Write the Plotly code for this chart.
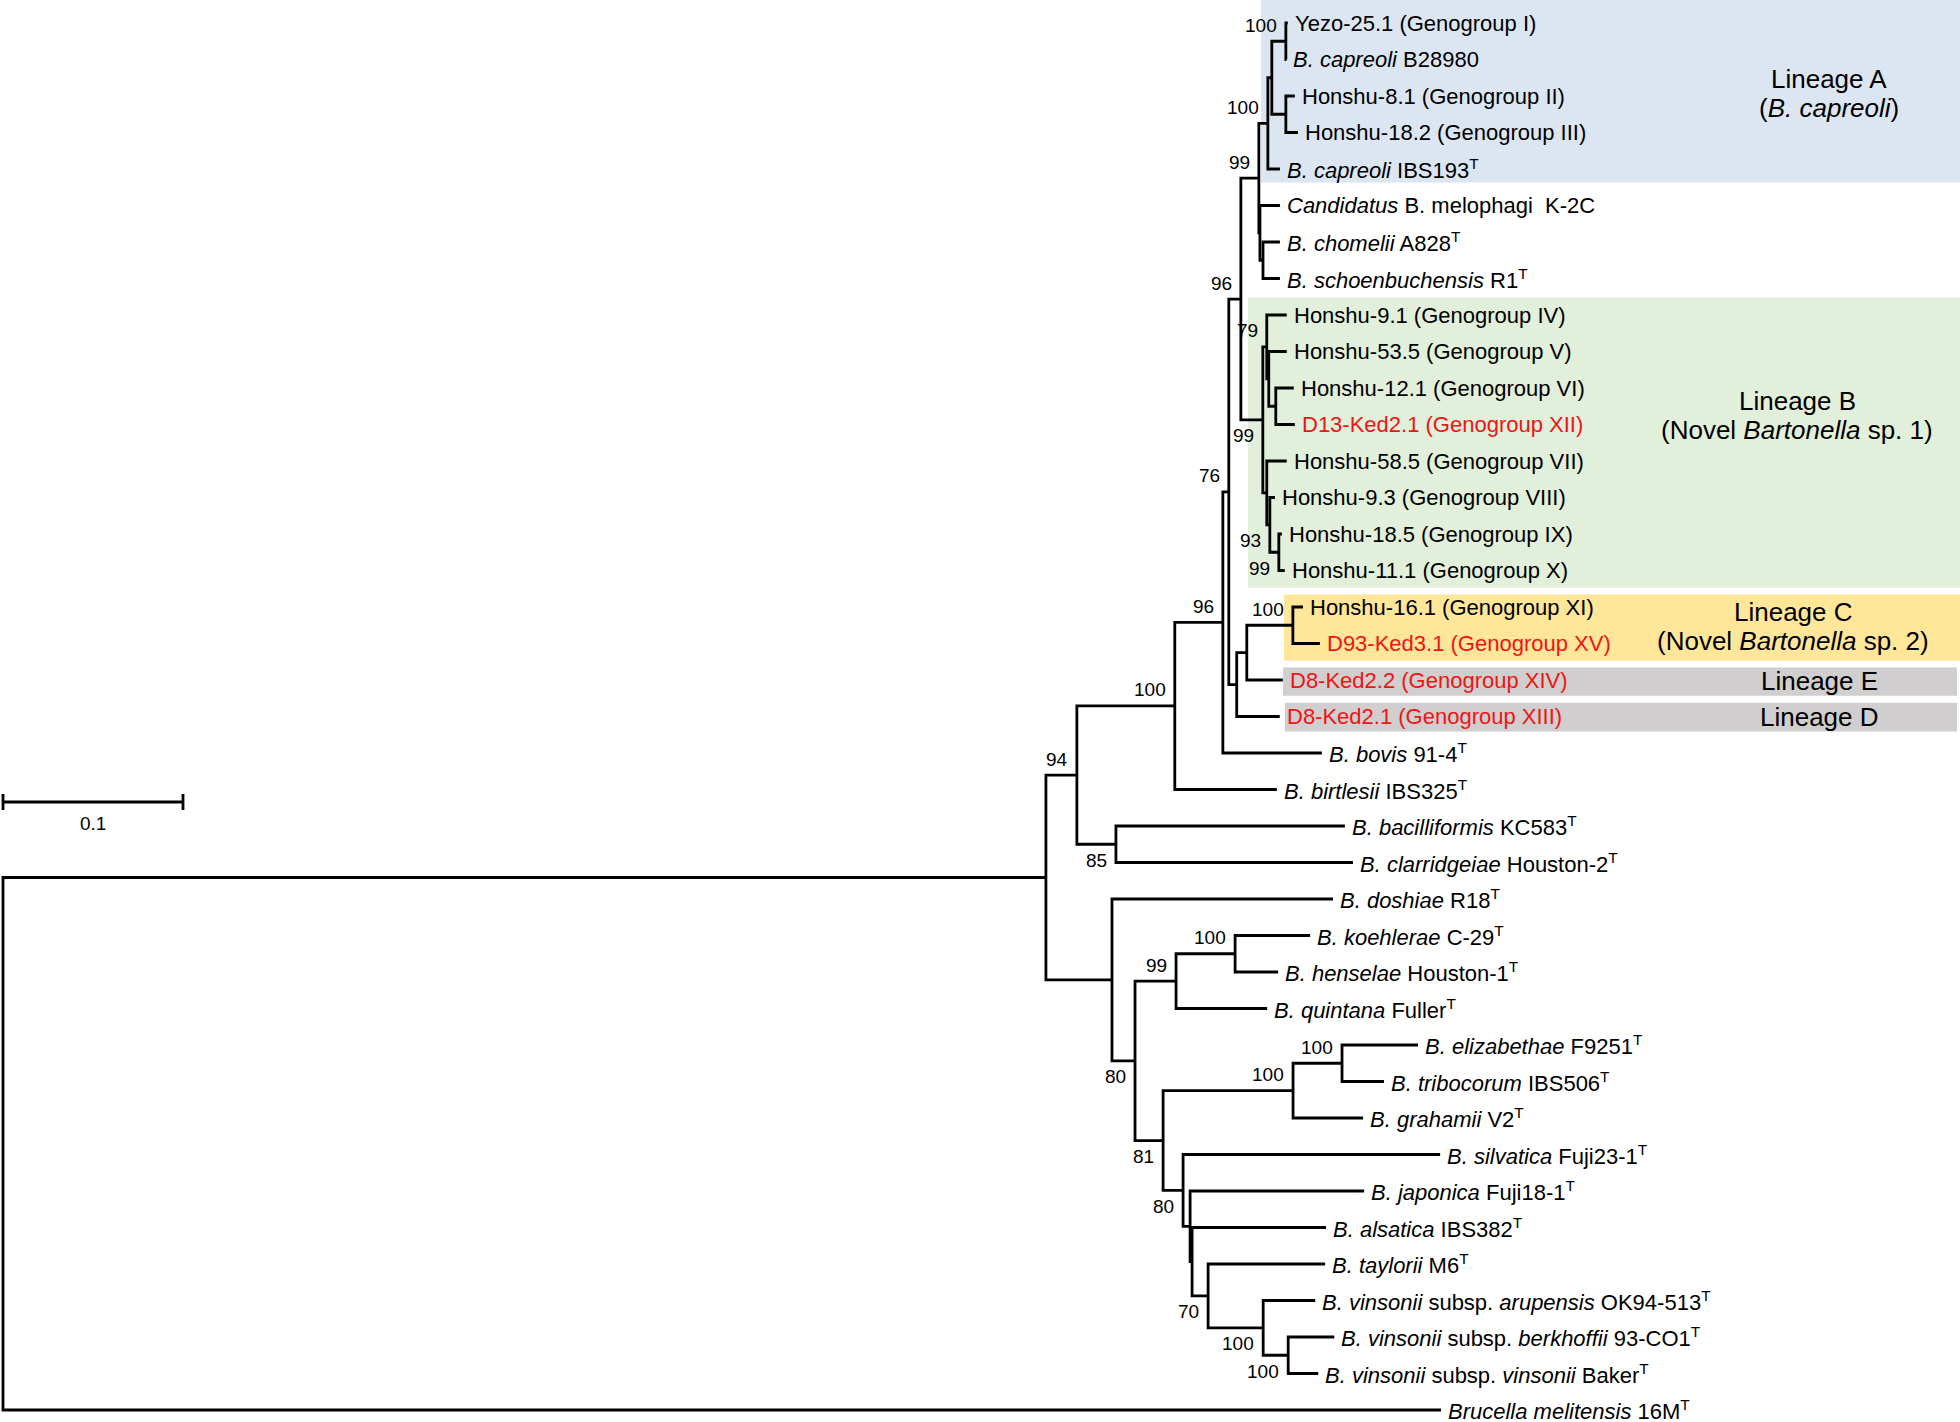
import plotly.graph_objects as go

# ---------------- DATA ----------------
# tree topology (children listed top-to-bottom) and branch lengths (substitutions/site)
node_names = [
    "root", "Bart", "N94", "N100big", "N96low", "N76", "N96up", "N99A", "NA", "NP", "NQ",
    "L_Yezo", "L_capB", "NR", "L_H8.1", "L_H18.2", "L_capIBS", "NZ", "L_Cand", "NW", "L_chom",
    "L_schoen", "NB", "N79", "L_H9.1", "NT", "L_H53.5", "NU", "L_H12.1", "L_D13", "NS",
    "L_H58.5", "NV", "L_H9.3", "NW2", "L_H18.5", "L_H11.1", "NCDE", "NCE", "NC", "L_H16.1",
    "L_D93", "L_D8_2.2", "L_D8_2.1", "L_bovis", "L_birt", "N85", "L_bacil", "L_clar", "Nd",
    "L_dosh", "NX1", "N99q", "N100kh", "L_koeh", "L_hens", "L_quint", "N81", "N100a", "N100b",
    "L_eliz", "L_trib", "L_grah", "N80b", "L_silv", "NY1", "L_japo", "NY2", "L_alsa", "N70",
    "L_tayl", "N100v", "L_arup", "N100w", "L_berk", "L_vins", "L_bruc",
]
node_parents = [
    None, "root", "Bart", "N94", "N100big", "N96low", "N76", "N96up", "N99A", "NA", "NP",
    "NQ", "NQ", "NP", "NR", "NR", "NA", "N99A", "NZ", "NZ", "NW",
    "NW", "N96up", "NB", "N79", "N79", "NT", "NT", "NU", "NU", "NB",
    "NS", "NS", "NV", "NV", "NW2", "NW2", "N76", "NCDE", "NCE", "NC",
    "NC", "NCE", "NCDE", "N96low", "N100big", "N94", "N85", "N85", "Bart",
    "Nd", "Nd", "NX1", "N99q", "N100kh", "N100kh", "N99q", "NX1", "N81", "N100a",
    "N100b", "N100b", "N100a", "N81", "N80b", "N80b", "NY1", "NY1", "NY2", "NY2",
    "N70", "N70", "N100v", "N100v", "N100w", "N100w", "root",
]
branch_lengths = [
    0.0, 0.5794, 0.0172, 0.0544, 0.0267, 0.0033, 0.0067, 0.0100, 0.0050, 0.0022, 0.0078,
    0.0011, 0.0003, 0.0078, 0.0050, 0.0067, 0.0067, 0.0006, 0.0111, 0.0017, 0.0094,
    0.0094, 0.0122, 0.0022, 0.0111, 0.0011, 0.0100, 0.0039, 0.0100, 0.0106, 0.0022,
    0.0111, 0.0017, 0.0028, 0.0050, 0.0017, 0.0033, 0.0044, 0.0056, 0.0256, 0.0056,
    0.0150, 0.0200, 0.0239, 0.0550, 0.0567, 0.0217, 0.1272, 0.1317, 0.0367,
    0.1228, 0.0128, 0.0228, 0.0328, 0.0417, 0.0239, 0.0506, 0.0156, 0.0722, 0.0272,
    0.0422, 0.0233, 0.0389, 0.0111, 0.1428, 0.0039, 0.0967, 0.0011, 0.0744, 0.0089,
    0.0650, 0.0306, 0.0289, 0.0139, 0.0256, 0.0167, 0.7989,
]

leaf_labels = {
    "L_Yezo": "Yezo-25.1 (Genogroup I)",
    "L_capB": "<i>B. capreoli</i> B28980",
    "L_H8.1": "Honshu-8.1 (Genogroup II)",
    "L_H18.2": "Honshu-18.2 (Genogroup III)",
    "L_capIBS": "<i>B. capreoli</i> IBS193<sup>T</sup>",
    "L_Cand": "<i>Candidatus</i> B. melophagi  K-2C",
    "L_chom": "<i>B. chomelii</i> A828<sup>T</sup>",
    "L_schoen": "<i>B. schoenbuchensis</i> R1<sup>T</sup>",
    "L_H9.1": "Honshu-9.1 (Genogroup IV)",
    "L_H53.5": "Honshu-53.5 (Genogroup V)",
    "L_H12.1": "Honshu-12.1 (Genogroup VI)",
    "L_D13": "D13-Ked2.1 (Genogroup XII)",
    "L_H58.5": "Honshu-58.5 (Genogroup VII)",
    "L_H9.3": "Honshu-9.3 (Genogroup VIII)",
    "L_H18.5": "Honshu-18.5 (Genogroup IX)",
    "L_H11.1": "Honshu-11.1 (Genogroup X)",
    "L_H16.1": "Honshu-16.1 (Genogroup XI)",
    "L_D93": "D93-Ked3.1 (Genogroup XV)",
    "L_D8_2.2": "D8-Ked2.2 (Genogroup XIV)",
    "L_D8_2.1": "D8-Ked2.1 (Genogroup XIII)",
    "L_bovis": "<i>B. bovis</i> 91-4<sup>T</sup>",
    "L_birt": "<i>B. birtlesii</i> IBS325<sup>T</sup>",
    "L_bacil": "<i>B. bacilliformis</i> KC583<sup>T</sup>",
    "L_clar": "<i>B. clarridgeiae</i> Houston-2<sup>T</sup>",
    "L_dosh": "<i>B. doshiae</i> R18<sup>T</sup>",
    "L_koeh": "<i>B. koehlerae</i> C-29<sup>T</sup>",
    "L_hens": "<i>B. henselae</i> Houston-1<sup>T</sup>",
    "L_quint": "<i>B. quintana</i> Fuller<sup>T</sup>",
    "L_eliz": "<i>B. elizabethae</i> F9251<sup>T</sup>",
    "L_trib": "<i>B. tribocorum</i> IBS506<sup>T</sup>",
    "L_grah": "<i>B. grahamii</i> V2<sup>T</sup>",
    "L_silv": "<i>B. silvatica</i> Fuji23-1<sup>T</sup>",
    "L_japo": "<i>B. japonica</i> Fuji18-1<sup>T</sup>",
    "L_alsa": "<i>B. alsatica</i> IBS382<sup>T</sup>",
    "L_tayl": "<i>B. taylorii</i> M6<sup>T</sup>",
    "L_arup": "<i>B. vinsonii</i> subsp. <i>arupensis</i> OK94-513<sup>T</sup>",
    "L_berk": "<i>B. vinsonii</i> subsp. <i>berkhoffii</i> 93-CO1<sup>T</sup>",
    "L_vins": "<i>B. vinsonii</i> subsp. <i>vinsonii</i> Baker<sup>T</sup>",
    "L_bruc": "<i>Brucella melitensis</i> 16M<sup>T</sup>",
}
new_sequences = ["L_D13", "L_D93", "L_D8_2.2", "L_D8_2.1"]

support_nodes = ["NQ", "NA", "N99A", "N96up", "N76", "NB", "N79", "NV", "NW2", "NC", "N96low",
                 "N100big", "N94", "N85", "NX1", "N99q", "N100kh", "N81", "N100a", "N100b",
                 "N80b", "N70", "N100v", "N100w"]
support_values = [100, 100, 99, 96, 76, 99, 79, 93, 99, 100, 96,
                  100, 94, 85, 80, 99, 100, 81, 100, 100,
                  80, 70, 100, 100]

lineage_names = ["Lineage A", "Lineage B", "Lineage C", "Lineage E", "Lineage D"]
lineage_subtitles = ["(<i>B. capreoli</i>)", "(Novel <i>Bartonella</i> sp. 1)",
                     "(Novel <i>Bartonella</i> sp. 2)", "", ""]
lineage_first_leaf = ["L_Yezo", "L_H9.1", "L_H16.1", "L_D8_2.2", "L_D8_2.1"]
lineage_last_leaf = ["L_capIBS", "L_H11.1", "L_D93", "L_D8_2.2", "L_D8_2.1"]

scale_bar_length = 0.1

# ---------------- STYLE / LAYOUT ----------------
W, H = 1960, 1422
ROOT_PX, PX_PER_UNIT = 3, 1800.0
TOP_PX, LEAF_STEP = 23, 36.5
FONT = "Arial, 'Liberation Sans', Helvetica, sans-serif"
LINE_W = 2.8
RED = "#f01414"
below_labels = {"NB", "NV", "NW2", "N85", "NX1", "N81", "N80b", "N70", "N100v", "N100w"}

box_colors = ["#dce6f2", "#e2efda", "#ffe699", "#d0cece", "#d0cece"]
box_left_px = [1261, 1248, 1284, 1283, 1285]
box_right_px = [1965, 1965, 1965, 1957, 1957]
box_pad_top = [1.0, 0.48, 0.34, 0.34, 0.38]
box_pad_bot = [0.37, 0.47, 0.47, 0.43, 0.41]
label_center_px = [1829, 1797, 1793, 1819, 1819]
label_title_idx = [1.53, 10.36, 16.13, 18.04, 19.0]
label_sub_gap = 0.8


def px_to_x(px):
    return (px - ROOT_PX) / PX_PER_UNIT


# ---------------- BUILD TREE ----------------
children = {n: [] for n in node_names}
depth = {}
for n, p, bl in zip(node_names, node_parents, branch_lengths):
    if p is None:
        depth[n] = 0.0
    else:
        children[p].append(n)
        depth[n] = depth[p] + bl

ypos = {}
counter = [0]


def place(n):
    if not children[n]:
        ypos[n] = counter[0]
        counter[0] += 1
    else:
        for c in children[n]:
            place(c)
        ypos[n] = (ypos[children[n][0]] + ypos[children[n][-1]]) / 2.0


place("root")

xs, ys = [], []
for n in node_names:
    ch = children[n]
    if not ch:
        continue
    c1, c2 = ch[0], ch[-1]
    xs += [depth[c1], depth[n], depth[n], depth[c2], None]
    ys += [ypos[c1], ypos[c1], ypos[c2], ypos[c2], None]
    for c in ch[1:-1]:
        xs += [depth[n], depth[c], None]
        ys += [ypos[c], ypos[c], None]

fig = go.Figure()
fig.add_trace(go.Scatter(x=xs, y=ys, mode="lines",
                         line=dict(color="black", width=LINE_W),
                         hoverinfo="skip", showlegend=False))

annotations = []
# leaf labels
for n in node_names:
    if children[n]:
        continue
    annotations.append(dict(
        x=depth[n], y=ypos[n], xref="x", yref="y", text=leaf_labels[n],
        showarrow=False, xanchor="left", yanchor="middle", xshift=5,
        font=dict(family=FONT, size=22, color=RED if n in new_sequences else "black")))

# bootstrap values
for n, v in zip(support_nodes, support_values):
    annotations.append(dict(
        x=depth[n], y=ypos[n], xref="x", yref="y", text=str(v), showarrow=False,
        xanchor="right", yanchor="middle", xshift=-7,
        yshift=-16 if n in below_labels else 16,
        font=dict(family=FONT, size=19, color="black")))

# lineage boxes and labels
shapes = []
for i in range(len(lineage_names)):
    y_top = ypos[lineage_first_leaf[i]] - box_pad_top[i]
    y_bot = ypos[lineage_last_leaf[i]] + box_pad_bot[i]
    shapes.append(dict(type="rect", xref="x", yref="y", layer="below",
                       x0=px_to_x(box_left_px[i]), x1=px_to_x(box_right_px[i]),
                       y0=y_top, y1=y_bot, fillcolor=box_colors[i],
                       line=dict(width=0)))
    cx = px_to_x(label_center_px[i])
    annotations.append(dict(x=cx, y=label_title_idx[i], xref="x", yref="y",
                            text=lineage_names[i], showarrow=False,
                            xanchor="center", yanchor="middle",
                            font=dict(family=FONT, size=26, color="black")))
    if lineage_subtitles[i]:
        annotations.append(dict(x=cx, y=label_title_idx[i] + label_sub_gap, xref="x", yref="y",
                                text=lineage_subtitles[i], showarrow=False,
                                xanchor="center", yanchor="middle",
                                font=dict(family=FONT, size=26, color="black")))

# scale bar
bar_y = 1 - 802 / H
tick_h = 8 / H
shapes.append(dict(type="line", xref="x", yref="paper", x0=0, x1=scale_bar_length,
                   y0=bar_y, y1=bar_y, line=dict(color="black", width=LINE_W)))
for xv in (0, scale_bar_length):
    shapes.append(dict(type="line", xref="x", yref="paper", x0=xv, x1=xv,
                       y0=bar_y - tick_h, y1=bar_y + tick_h,
                       line=dict(color="black", width=LINE_W)))
annotations.append(dict(x=scale_bar_length / 2, y=1 - 823 / H, xref="x", yref="paper",
                        text=str(scale_bar_length), showarrow=False,
                        xanchor="center", yanchor="middle",
                        font=dict(family=FONT, size=19, color="black")))

fig.update_layout(
    width=W, height=H, margin=dict(l=0, r=0, t=0, b=0),
    paper_bgcolor="white", plot_bgcolor="white",
    xaxis=dict(range=[px_to_x(0), px_to_x(W)], visible=False, showgrid=False, zeroline=False),
    yaxis=dict(range=[(H - TOP_PX) / LEAF_STEP, -TOP_PX / LEAF_STEP], visible=False,
               showgrid=False, zeroline=False),
    shapes=shapes, annotations=annotations, showlegend=False,
)

fig.write_html("out.html", config={"displayModeBar": False},
               post_script="document.body.style.margin='0';")
